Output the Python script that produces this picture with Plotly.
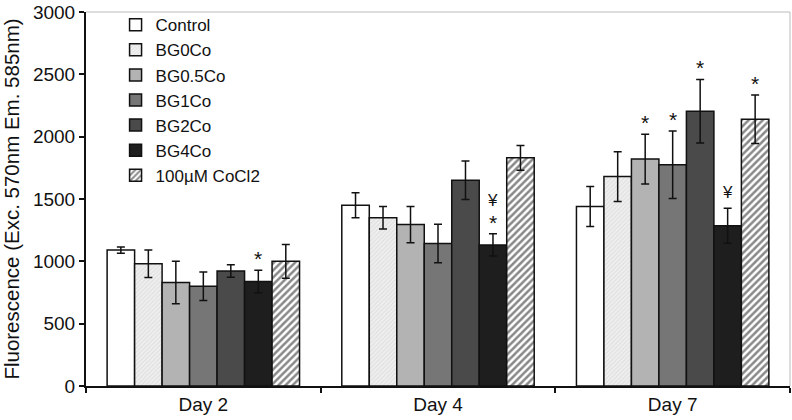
import plotly.graph_objects as go

days = ["Day 2", "Day 4", "Day 7"]
groups = ["Control", "BG0Co", "BG0.5Co", "BG1Co", "BG2Co", "BG4Co", "100µM CoCl2"]

control = [1090, 1450, 1440]
bg0co = [980, 1350, 1680]
bg05co = [830, 1295, 1820]
bg1co = [800, 1143, 1775]
bg2co = [922, 1650, 2204]
bg4co = [838, 1132, 1286]
cocl2 = [1000, 1830, 2140]

control_err = [25, 100, 160]
bg0co_err = [110, 90, 200]
bg05co_err = [170, 145, 200]
bg1co_err = [115, 155, 270]
bg2co_err = [50, 155, 255]
bg4co_err = [90, 90, 140]
cocl2_err = [135, 100, 195]

values = [control, bg0co, bg05co, bg1co, bg2co, bg4co, cocl2]
errors = [control_err, bg0co_err, bg05co_err, bg1co_err, bg2co_err, bg4co_err, cocl2_err]

# significance marks: (day index, group index, label)
marks = [(0, 5, "*"), (1, 5, "*"), (1, 5, "¥"), (2, 2, "*"), (2, 3, "*"),
         (2, 4, "*"), (2, 5, "¥"), (2, 6, "*")]

colors = ["#ffffff", "#e8e8e8", "#b3b3b3", "#767676", "#4a4a4a", "#1e1e1e", "#ffffff"]
patterns = [None,
            dict(shape="/", fgcolor="#cdcdcd", bgcolor="#efefef", size=3, solidity=0.35),
            None, None, None, None,
            dict(shape="/", fgcolor="#111111", bgcolor="#ffffff", size=5, solidity=0.5)]

FONT = "Liberation Sans, Arial"

fig = go.Figure()
for name, v, e, c, p in zip(groups, values, errors, colors, patterns):
    marker = dict(color=c, line=dict(color="#111111", width=1.5))
    if p is not None:
        marker["pattern"] = p
    fig.add_trace(go.Bar(
        name=name, x=days, y=v, marker=marker,
        error_y=dict(type="data", array=e, visible=True, color="#111111",
                     thickness=1.5, width=4),
    ))

bargap = 0.18
n = len(groups)
bw = (1 - bargap) / n
stack_count = {}
for di, gi, lab in marks:
    k = stack_count.get((di, gi), 0)
    stack_count[(di, gi)] = k + 1
    top = values[gi][di] + errors[gi][di]
    fig.add_annotation(x=di + (gi - (n - 1) / 2) * bw, y=top, xref="x", yref="y",
                       text=lab, showarrow=False, yanchor="bottom",
                       yshift=(-2 if lab == "*" else 4) + 18 * k,
                       font=dict(size=21 if lab == "*" else 17, color="#111111",
                                 family=FONT))

fig.update_layout(
    width=792, height=420,
    margin=dict(l=86, r=2, t=8, b=34),
    paper_bgcolor="white", plot_bgcolor="white",
    barmode="group", bargap=bargap, bargroupgap=0,
    font=dict(family=FONT, size=17, color="#111111"),
    showlegend=True,
    legend=dict(x=0.042, y=1.013, xanchor="left", yanchor="top",
                font=dict(size=17), bgcolor="rgba(0,0,0,0)",
                itemwidth=30, tracegroupgap=0),
    xaxis=dict(type="category", showline=True, linecolor="#111111", linewidth=2,
               ticks="outside", tickson="boundaries", ticklen=5, tickwidth=2,
               tickcolor="#111111", tickfont=dict(size=19), showgrid=False),
    yaxis=dict(range=[0, 3000], tickvals=[0, 500, 1000, 1500, 2000, 2500, 3000],
               showline=True, linecolor="#111111", linewidth=2, ticks="outside",
               ticklen=5, tickwidth=2, tickcolor="#111111", showgrid=False,
               zeroline=False, tickfont=dict(size=19), ticklabeloverflow="allow",
               title=dict(text="Fluorescence (Exc. 570nm Em. 585nm)",
                          font=dict(size=20.5), standoff=9)),
)
fig.add_shape(type="line", xref="paper", yref="paper", x0=0, x1=1, y0=1, y1=1,
              line=dict(color="#bbbbbb", width=1))
fig.add_shape(type="line", xref="paper", yref="paper", x0=1, x1=1, y0=0, y1=1,
              line=dict(color="#bbbbbb", width=1))

fig.write_html("out.html", config={"displayModeBar": False},
               post_script="document.body.style.margin='0';document.body.style.overflow='hidden';")
